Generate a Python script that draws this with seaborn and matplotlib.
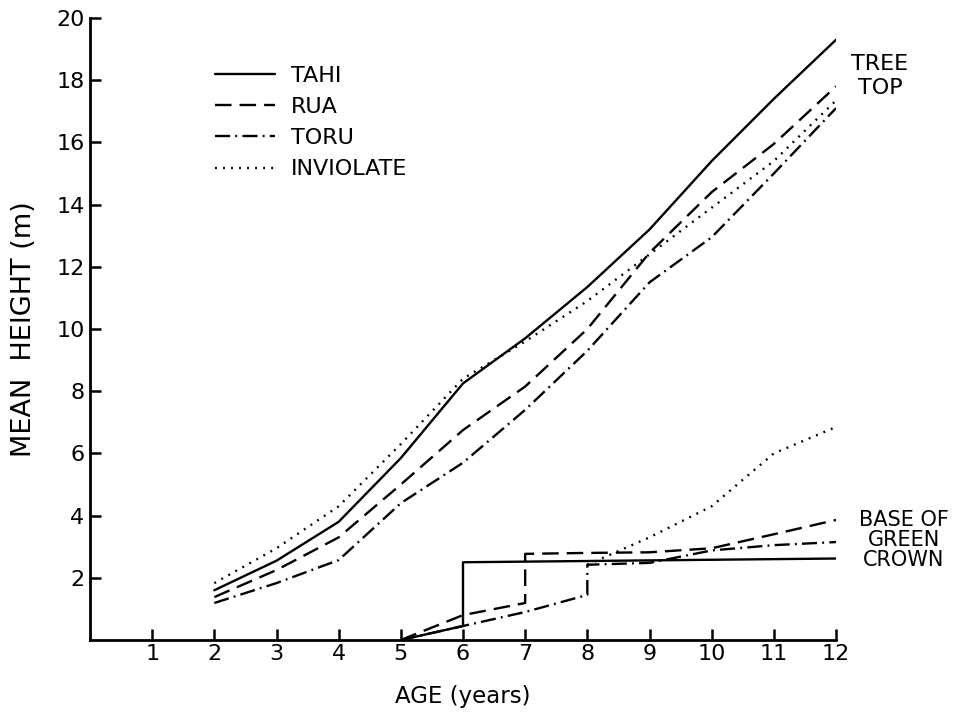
import matplotlib
matplotlib.use("Agg")
import matplotlib.pyplot as plt
import seaborn as sns
import numpy as np
import pandas as pd

# ---- data ----
age_top = [2, 3, 4, 5, 6, 7, 8, 9, 10, 11, 12]
tahi_top = [1.6, 2.55, 3.8, 5.85, 8.25, 9.7, 11.35, 13.2, 15.4, 17.4, 19.3]
rua_top = [1.38, 2.25, 3.3, 5.0, 6.75, 8.15, 10.0, 12.45, 14.4, 15.95, 17.8]
toru_top = [1.19, 1.83, 2.57, 4.4, 5.7, 7.4, 9.3, 11.5, 12.95, 15.0, 17.1]
inviolate_top = [1.83, 2.95, 4.3, 6.3, 8.4, 9.6, 10.9, 12.4, 13.9, 15.4, 17.35]

tahi_crown_age = [5, 6, 6, 7, 8, 9, 10, 11, 12]
tahi_crown = [0.0, 0.45, 2.5, 2.52, 2.54, 2.56, 2.58, 2.6, 2.62]
rua_crown_age = [5, 6, 7, 7, 8, 9, 10, 11, 12]
rua_crown = [0.0, 0.8, 1.19, 2.77, 2.8, 2.82, 2.95, 3.4, 3.86]
toru_crown_age = [5, 6, 7, 8, 8, 9, 10, 11, 12]
toru_crown = [0.0, 0.45, 0.9, 1.45, 2.42, 2.48, 2.88, 3.05, 3.15]
inviolate_crown_age = [8, 9, 10, 11, 12]
inviolate_crown = [2.42, 3.3, 4.3, 6.0, 6.85]

varieties = ["TAHI", "RUA", "TORU", "INVIOLATE"]
x_ticks = list(range(1, 13))
y_ticks = list(range(2, 21, 2))

sns.set_theme(style="white")
plt.rcParams['font.family'] = ['DejaVu Sans']
plt.rcParams['text.color'] = 'black'
plt.rcParams['axes.labelcolor'] = 'black'
plt.rcParams['xtick.color'] = 'black'
plt.rcParams['ytick.color'] = 'black'

fig = plt.figure(figsize=(9.67, 7.12), dpi=100)
ax = fig.add_axes([90/967, 72/712, (836-90)/967, (640-18)/712])

styles = {
    "TAHI": "-",
    "RUA": (0, (7, 3.4)),
    "TORU": (0, (6.4, 2.2, 0.8, 2.2)),
    "INVIOLATE": (0, (0.8, 2.6)),
}
lw = 1.7

tops = {"TAHI": tahi_top, "RUA": rua_top, "TORU": toru_top, "INVIOLATE": inviolate_top}
crowns = {
    "TAHI": (tahi_crown_age, tahi_crown),
    "RUA": (rua_crown_age, rua_crown),
    "TORU": (toru_crown_age, toru_crown),
    "INVIOLATE": (inviolate_crown_age, inviolate_crown),
}

for v in varieties:
    ls = styles[v]
    df = pd.DataFrame({"age": age_top, "h": tops[v]})
    sns.lineplot(data=df, x="age", y="h", ax=ax, color="black", lw=lw,
                 linestyle=ls, label=v, sort=False, estimator=None)
    a, h = crowns[v]
    dfc = pd.DataFrame({"age": a, "h": h})
    sns.lineplot(data=dfc, x="age", y="h", ax=ax, color="black", lw=lw,
                 linestyle=ls, sort=False, estimator=None, legend=False)

ax.set_xlim(0, 12)
ax.set_ylim(0, 20)
ax.set_xticks(x_ticks)
ax.set_yticks(y_ticks)
ax.tick_params(axis="x", direction="in", length=8, width=1.8, labelsize=16, pad=3,
               color="black", labelcolor="black")
ax.tick_params(axis="y", direction="in", length=8, width=1.8, labelsize=16, pad=4,
               color="black", labelcolor="black")
ax.tick_params(bottom=True, left=True)
for s in ["top", "right"]:
    ax.spines[s].set_visible(False)
for s in ["left", "bottom"]:
    ax.spines[s].set_linewidth(2.0)
    ax.spines[s].set_color("black")

ax.set_xlabel("AGE (years)", fontsize=16.5, labelpad=15, color="black")
ax.set_ylabel("MEAN  HEIGHT (m)", fontsize=19.5, labelpad=14, color="black")

leg = ax.legend(loc="upper left", bbox_to_anchor=((215-90)/746, (640-66)/622), frameon=False,
                fontsize=16, handlelength=2.7, handletextpad=0.72, labelspacing=0.5,
                borderpad=0, borderaxespad=0)
for line in leg.get_lines():
    line.set_linewidth(1.7)
for t in leg.get_texts():
    t.set_color("black")

fig.text(880/967, 1 - 76/712, "TREE\nTOP", ha="center", va="center", fontsize=16,
         linespacing=1.3, color="black")
fig.text(904/967, 1 - 540/712, "BASE OF\nGREEN\nCROWN", ha="center", va="center",
         fontsize=15, linespacing=1.02, color="black")

fig.savefig("out.png", dpi=100, facecolor="white")
